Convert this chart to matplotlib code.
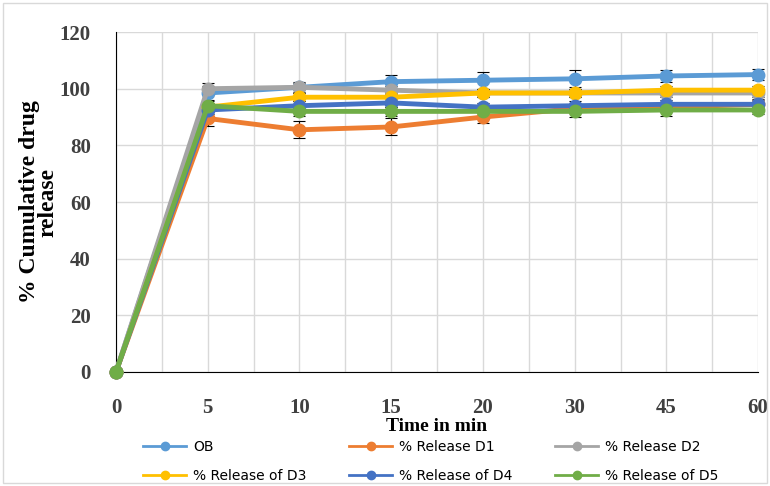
import numpy as np
import matplotlib.pyplot as plt
from matplotlib.patches import Rectangle
from matplotlib.lines import Line2D

# Datos
tiempos = ['0', '5', '10', '15', '20', '30', '45', '60']
ob = [0, 98.5, 100.5, 102.5, 103, 103.5, 104.5, 105]
d1 = [0, 89.5, 85.5, 86.5, 90, 93, 93.5, 94.5]
d2 = [0, 100, 100.5, 99.5, 98.5, 98.5, 98.5, 98.5]
d3 = [0, 93.5, 97, 97, 98.5, 98.5, 99.5, 99.5]
d4 = [0, 92.5, 94, 95, 93.5, 94, 94.5, 94.5]
d5 = [0, 94, 92, 92, 92, 92, 92.5, 92.5]
err_ob = [0, 2.5, 2, 2.5, 3, 3, 2, 2]
err_d1 = [0, 2.5, 3, 3, 2, 1.5, 1.5, 2]
err_d2 = [0, 2, 1.5, 1.5, 1.5, 1.5, 1.5, 1.5]
err_d3 = [0, 1.5, 1.5, 1.5, 1.5, 1.5, 1.5, 1.5]
err_d4 = [0, 1.5, 1.5, 1.5, 1.5, 1.5, 1.5, 1.5]
err_d5 = [0, 1.5, 1.5, 1.5, 1.5, 2, 2, 1.5]

series = [
    ('OB', ob, err_ob, '#5B9BD5'),
    ('% Release D1', d1, err_d1, '#ED7D31'),
    ('% Release D2', d2, err_d2, '#A5A5A5'),
    ('% Release of D3', d3, err_d3, '#FFC000'),
    ('% Release of D4', d4, err_d4, '#4472C4'),
    ('% Release of D5', d5, err_d5, '#70AD47'),
]

fig = plt.figure(figsize=(7.7, 4.86), dpi=100)
ax = fig.add_axes([0.1506, 0.2346, 0.834, 0.6994])

x = np.arange(len(tiempos))
for nombre, y, e, color in series:
    ax.errorbar(x, y, yerr=e, color=color, lw=3.5, marker='o', ms=9,
                ecolor='black', elinewidth=0.8, capsize=4, capthick=0.8,
                label=nombre, zorder=3, clip_on=False)

ax.set_xlim(0, 7)
ax.set_ylim(0, 120)
ax.set_xticks(x)
ax.set_xticklabels(tiempos)
ax.set_xticks(np.arange(0.5, 7, 0.5), minor=True)
ax.set_yticks(np.arange(0, 121, 20))
ax.grid(True, which='both', color='#D9D9D9', lw=1)
ax.set_axisbelow(True)
ax.tick_params(which='both', length=0)
ax.tick_params(axis='x', labelsize=15, pad=19)
ax.tick_params(axis='y', labelsize=15, pad=18)
for lab in ax.get_xticklabels() + ax.get_yticklabels():
    lab.set_fontfamily('Liberation Serif')
    lab.set_fontweight('bold')
    lab.set_color('#404040')

for lado in ['top', 'right']:
    ax.spines[lado].set_visible(False)
ax.spines['left'].set_color('black')
ax.spines['bottom'].set_color('black')

ax.set_xlabel('Time in min', fontsize=14, fontweight='bold',
              family='Liberation Serif', labelpad=0)
ax.set_ylabel('% Cumulative drug\nrelease', fontsize=17, fontweight='bold',
              family='Liberation Serif', labelpad=1, linespacing=0.85)

# Leyenda abajo: tres columnas, una leyenda por columna
columnas_x = [143, 349, 555]
for i, cx in enumerate(columnas_x):
    par = [series[i], series[i + 3]]
    handles = [Line2D([0], [0], color=c, lw=2, marker='o', ms=6) for _, _, _, c in par]
    fig.legend(handles, [s[0] for s in par], loc='upper left',
               bbox_to_anchor=(cx / 770, 1 - 440 / 486), frameon=False,
               borderpad=0, borderaxespad=0, handlelength=3.1, handletextpad=0.5,
               labelspacing=1.05, prop={'family': 'DejaVu Sans', 'size': 10})

fig.patches.append(Rectangle((0.004, 0.006), 0.992, 0.988, transform=fig.transFigure,
                             fill=False, edgecolor='#D9D9D9', lw=1))

plt.savefig('out.png', dpi=100)
